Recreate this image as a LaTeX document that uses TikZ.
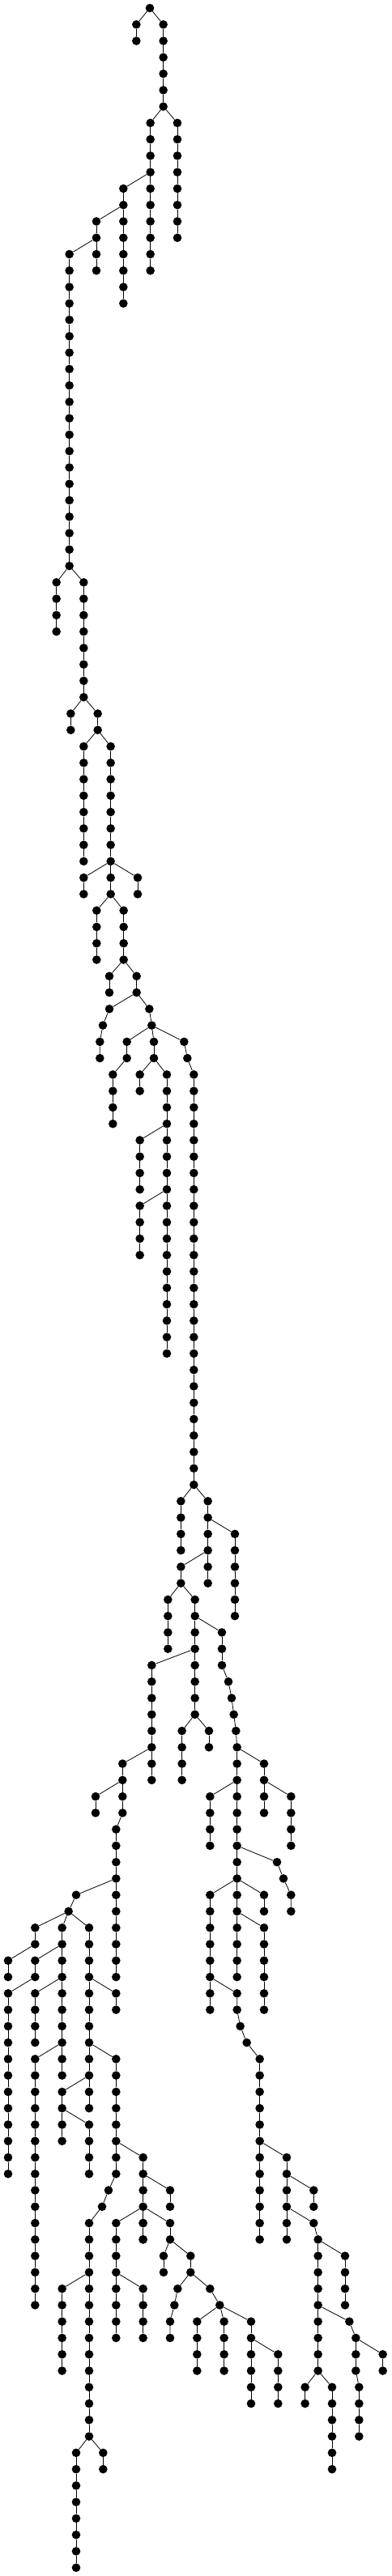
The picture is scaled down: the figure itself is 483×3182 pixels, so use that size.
\documentclass[tikz,border=0pt]{standalone}
\begin{document}
\begin{tikzpicture}[
  dot/.style={circle,fill=black,draw=none,inner sep=0pt,minimum size=10.6pt},
  edge/.style={line width=0.8pt,black}]
\newcommand{\mkchain}[4]{%
  \foreach \k in {#3,...,#4}{%
    \node[dot] (#1-\k) at (#2,\k) {};
    \ifnum\k>#3\relax
      \pgfmathtruncatemacro{\kp}{\k-1}%
      \draw[edge] (#1-\kp) -- (#1-\k);
    \fi
  }%
}
\useasboundingbox (0pt,0pt) rectangle (483pt,-3182pt);
\fill[white] (0pt,0pt) rectangle (483pt,-3182pt);
\begin{scope}[x=0.33333pt,y=-20.267pt,yshift=-10pt]
\node[dot] (R) at (555,0) {};
\mkchain{a}{505}{1}{2}
\mkchain{b}{605}{1}{6}
\draw[edge] (R) -- (a-1); \draw[edge] (R) -- (b-1);
\mkchain{c}{557}{7}{16}
\mkchain{d}{657}{7}{14}
\draw[edge] (b-6) -- (c-7); \draw[edge] (b-6) -- (d-7);
\mkchain{e}{457}{11}{18} \draw[edge] (c-10) -- (e-11);
\mkchain{f}{357}{13}{16} \draw[edge] (e-12) -- (f-13);
\mkchain{g}{257}{15}{34} \draw[edge] (f-14) -- (g-15);
\mkchain{h}{209}{35}{38} \draw[edge] (g-34) -- (h-35);
\mkchain{i}{310}{35}{42} \draw[edge] (g-34) -- (i-35);
\mkchain{j}{262}{43}{44} \draw[edge] (i-42) -- (j-43);
\mkchain{l}{362}{43}{44} \draw[edge] (i-42) -- (l-43);
\mkchain{m}{310}{45}{52} \draw[edge] (l-44) -- (m-45);
\mkchain{n}{410}{45}{54} \draw[edge] (l-44) -- (n-45);
\mkchain{o}{310}{53}{54} \draw[edge] (n-52) -- (o-53);
\mkchain{p}{510}{53}{54} \draw[edge] (n-52) -- (p-53);
\mkchain{q}{358}{55}{58} \draw[edge] (n-54) -- (q-55);
\mkchain{r}{458}{55}{58} \draw[edge] (n-54) -- (r-55);
\mkchain{s}{405}{59}{60} \draw[edge] (r-58) -- (s-59);
\mkchain{t}{506}{59}{60} \draw[edge] (r-58) -- (t-59);
\node[dot] (u1) at (405,61) {};
\node[dot] (u2) at (381,62) {};
\node[dot] (u3) at (370,63) {};
\node[dot] (u4) at (370,64) {};
\draw[edge] (t-60) -- (u1) -- (u2) -- (u3) -- (u4);
\node[dot] (v1) at (553,61) {};
\node[dot] (v2) at (562,62) {};
\draw[edge] (t-60) -- (v1) -- (v2);
\mkchain{w}{470}{63}{64} \draw[edge] (v2) -- (w-63);
\mkchain{wb}{418}{65}{68} \draw[edge] (w-64) -- (wb-65);
\mkchain{x}{570}{63}{64} \draw[edge] (v2) -- (x-63);
\mkchain{xa}{518}{65}{66} \draw[edge] (x-64) -- (xa-65);
\mkchain{xb}{618}{65}{82} \draw[edge] (x-64) -- (xb-65);
\node[dot] (y1) at (682,63) {};
\node[dot] (y2) at (694,64) {};
\draw[edge] (v2) -- (y1) -- (y2);
\mkchain{yy}{718}{65}{90} \draw[edge] (y2) -- (yy-65);
\mkchain{za}{518}{69}{72} \draw[edge] (xb-68) -- (za-69);
\mkchain{zb}{518}{73}{76} \draw[edge] (xb-72) -- (zb-73);
\mkchain{aa}{670}{91}{94} \draw[edge] (yy-90) -- (aa-91);
\mkchain{ab}{770}{91}{96} \draw[edge] (yy-90) -- (ab-91);
\mkchain{ac}{870}{93}{98} \draw[edge] (ab-92) -- (ac-93);
\mkchain{ad}{670}{95}{96} \draw[edge] (ab-94) -- (ad-95);
\mkchain{ae}{622}{97}{100} \draw[edge] (ad-96) -- (ae-97);
\mkchain{af}{722}{97}{104} \draw[edge] (ad-96) -- (af-97);
\mkchain{ag}{822}{99}{101} \draw[edge] (af-98) -- (ag-99);
\node[dot] (ag2) at (846,102) {};
\node[dot] (ag3) at (858,103) {};
\node[dot] (ag4) at (866,104) {};
\node[dot] (ag5) at (874,105) {};
\draw[edge] (ag-101) -- (ag2) -- (ag3) -- (ag4) -- (ag5);
\mkchain{ah}{878}{106}{120} \draw[edge] (ag5) -- (ah-106);
\mkchain{ai}{562}{101}{108} \draw[edge] (af-100) -- (ai-101);
\mkchain{aj}{674}{105}{108} \draw[edge] (af-104) -- (aj-105);
\mkchain{ak}{774}{105}{106} \draw[edge] (af-104) -- (ak-105);
\mkchain{al}{978}{107}{110} \draw[edge] (ah-106) -- (al-107);
\mkchain{am}{1078}{109}{112} \draw[edge] (al-108) -- (am-109);
\mkchain{an}{778}{109}{112} \draw[edge] (ah-108) -- (an-109);
\node[dot] (ao1) at (1026,113) {};
\node[dot] (ao2) at (1050,114) {};
\node[dot] (ao3) at (1078,115) {};
\node[dot] (ao4) at (1078,116) {};
\draw[edge] (ah-112) -- (ao1) -- (ao2) -- (ao3) -- (ao4);
\mkchain{ap}{778}{115}{122} \draw[edge] (ah-114) -- (ap-115);
\mkchain{aq}{978}{115}{116} \draw[edge] (ah-114) -- (aq-115);
\mkchain{ar}{978}{117}{122} \draw[edge] (ah-116) -- (ar-117);
\node[dot] (ss1) at (878,121) {};
\node[dot] (ss2) at (878,122) {};
\node[dot] (ss3) at (890,123) {};
\node[dot] (ss4) at (914,124) {};
\draw[edge] (ap-120) -- (ss1) -- (ss2) -- (ss3) -- (ss4);
\mkchain{tt}{962}{125}{136} \draw[edge] (ss4) -- (tt-125);
\mkchain{au}{1062}{131}{136} \draw[edge] (tt-130) -- (au-131);
\mkchain{av}{1162}{133}{134} \draw[edge] (au-132) -- (av-133);
\node[dot] (aw) at (1162,135) {};
\draw[edge] (au-134) -- (aw);
\mkchain{ax}{1178}{136}{144} \draw[edge] (aw) -- (ax-136);
\mkchain{ay}{1278}{137}{140} \draw[edge] (ax-136) -- (ay-137);
\node[dot] (ba1) at (1294,141) {};
\draw[edge] (ax-140) -- (ba1);
\mkchain{ba}{1318}{142}{144} \draw[edge] (ba1) -- (ba-142);
\mkchain{bb}{1330}{145}{148} \draw[edge] (ba-144) -- (bb-145);
\mkchain{bc}{1418}{143}{144} \draw[edge] (ba-142) -- (bc-143);
\mkchain{bd}{1130}{145}{146} \draw[edge] (ax-144) -- (bd-145);
\mkchain{be}{1230}{145}{150} \draw[edge] (ax-144) -- (be-145);
\mkchain{bf}{454}{107}{110} \draw[edge] (ai-106) -- (bf-107);
\mkchain{bg}{354}{109}{110} \draw[edge] (bf-108) -- (bg-109);
\mkchain{bh}{430}{111}{120} \draw[edge] (bf-110) -- (bh-111);
\node[dot] (bi1) at (282,115) {};
\node[dot] (bi2) at (254,116) {};
\draw[edge] (bh-114) -- (bi1) -- (bi2);
\mkchain{bj}{130}{117}{118} \draw[edge] (bi2) -- (bj-117);
\mkchain{bk}{230}{117}{126} \draw[edge] (bi2) -- (bk-117);
\mkchain{bl}{330}{117}{128} \draw[edge] (bi2) -- (bl-117);
\mkchain{bm}{30}{119}{120} \draw[edge] (bj-118) -- (bm-119);
\mkchain{bn}{130}{119}{120} \draw[edge] (bk-118) -- (bn-119);
\mkchain{bo}{30}{121}{132} \draw[edge] (bn-120) -- (bo-121);
\mkchain{bp}{130}{121}{124} \draw[edge] (bk-120) -- (bp-121);
\mkchain{bq}{130}{125}{140} \draw[edge] (bk-124) -- (bq-125);
\mkchain{br}{430}{121}{122} \draw[edge] (bl-120) -- (br-121);
\mkchain{bs}{430}{125}{132} \draw[edge] (bl-124) -- (bs-125);
\mkchain{bt}{230}{127}{130} \draw[edge] (bl-126) -- (bt-127);
\mkchain{bu}{330}{129}{132} \draw[edge] (bt-128) -- (bu-129);
\mkchain{bv}{530}{131}{136} \draw[edge] (bs-130) -- (bv-131);
\node[dot] (bw1) at (402,133) {};
\node[dot] (bw2) at (378,134) {};
\draw[edge] (bs-132) -- (bw1) -- (bw2);
\mkchain{bx}{330}{135}{148} \draw[edge] (bw2) -- (bx-135);
\mkchain{by}{630}{133}{134} \draw[edge] (bv-132) -- (by-133);
\mkchain{bz}{430}{135}{142} \draw[edge] (bv-134) -- (bz-135);
\mkchain{ca}{530}{135}{136} \draw[edge] (bv-134) -- (ca-135);
\mkchain{cb}{630}{135}{136} \draw[edge] (bv-134) -- (cb-135);
\mkchain{cc}{530}{139}{142} \draw[edge] (bz-138) -- (cc-139);
\mkchain{cd}{606}{137}{138} \draw[edge] (cb-136) -- (cd-137);
\mkchain{ce}{706}{137}{138} \draw[edge] (cb-136) -- (ce-137);
\node[dot] (cf1) at (658,139) {};
\node[dot] (cf2) at (646,140) {};
\node[dot] (cf3) at (630,141) {};
\node[dot] (cf4) at (630,142) {};
\draw[edge] (ce-138) -- (cf1) -- (cf2) -- (cf3) -- (cf4);
\node[dot] (cg1) at (778,139) {};
\node[dot] (cg2) at (814,140) {};
\draw[edge] (ce-138) -- (cg1) -- (cg2);
\mkchain{ch}{730}{141}{144} \draw[edge] (cg2) -- (ch-141);
\mkchain{ci}{830}{141}{144} \draw[edge] (cg2) -- (ci-141);
\mkchain{cj}{930}{141}{146} \draw[edge] (cg2) -- (cj-141);
\mkchain{ck}{1030}{143}{146} \draw[edge] (cj-142) -- (ck-143);
\mkchain{cl}{230}{139}{144} \draw[edge] (bx-138) -- (cl-139);
\mkchain{cm}{282}{149}{156} \draw[edge] (bx-148) -- (cm-149);
\mkchain{cn}{382}{149}{150} \draw[edge] (bx-148) -- (cn-149);
\end{scope}
\end{tikzpicture}
\end{document}
